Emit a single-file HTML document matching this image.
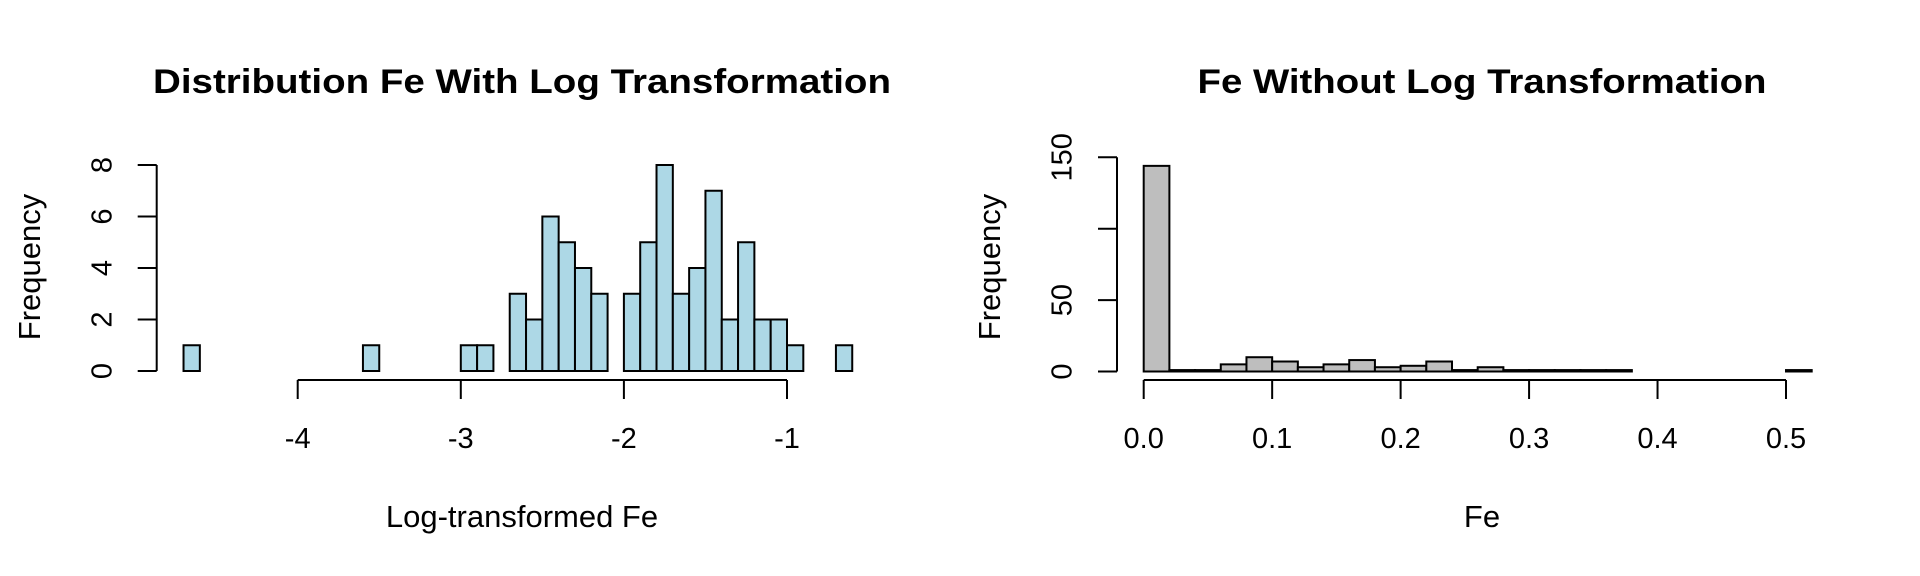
<!DOCTYPE html>
<html><head><meta charset="utf-8"><style>
html,body{margin:0;padding:0;background:#fff;}
svg{display:block;font-family:"Liberation Sans",Arial,sans-serif;}
</style></head><body>
<svg id="c" width="1920" height="576" viewBox="0 0 1920 576" xmlns="http://www.w3.org/2000/svg">
<g id="p1"></g>
<g id="p2"></g>
</svg>
<script>
// Left histogram data
const logBinStart = -4.7;
const logBinWidth = 0.1;
const logCounts = [1,0,0,0,0,0,0,0,0,0,0,1,0,0,0,0,0,1,1,0,3,2,6,5,4,3,0,3,5,8,3,4,7,2,5,2,2,1,0,0,1];
const logXTicks = [-4,-3,-2,-1];
const logXTickLabels = ["-4","-3","-2","-1"];
const logYTicks = [0,2,4,6,8];
const logYTickLabels = ["0","2","4","6","8"];
// Right histogram data
const feBinStart = 0;
const feBinWidth = 0.02;
const feCounts = [144,1,1,5,10,7,3,5,8,3,4,7,1,3,1,1,1,1,1,0,0,0,0,0,0,1];
const feXTicks = [0,0.1,0.2,0.3,0.4,0.5];
const feXTickLabels = ["0.0","0.1","0.2","0.3","0.4","0.5"];
const feYTicks = [0,50,100,150];
const feYTickLabels = ["0","50","","150"];

const NS="http://www.w3.org/2000/svg";
function mk(tag, attrs, parent){const e=document.createElementNS(NS,tag);for(const k in attrs)e.setAttribute(k,attrs[k]);parent.appendChild(e);return e;}

function drawHist(g, cfg){
  const xs=v=>cfg.x0+(v-cfg.xv0)*cfg.xk;
  const ys=v=>cfg.y0-v*cfg.yk;
  cfg.counts.forEach((c,i)=>{
    const a=cfg.binStart+i*cfg.binWidth, b=a+cfg.binWidth;
    const r=mk('rect',{x:xs(a),y:ys(c),width:xs(b)-xs(a),height:ys(0)-ys(c),fill:cfg.fill,stroke:'#000','stroke-width':2},g);
    
    
  });
  const yt=cfg.yTicks;
  const ya=mk('line',{x1:cfg.yAxisX,x2:cfg.yAxisX,y1:ys(yt[0]),y2:ys(yt[yt.length-1]),stroke:'#000','stroke-width':2},g);
  
  
  yt.forEach((t,i)=>{
    mk('line',{x1:cfg.yAxisX-19,x2:cfg.yAxisX,y1:ys(t),y2:ys(t),stroke:'#000','stroke-width':2},g);
    if(cfg.yLabels[i]){
      const tx=mk('text',{x:cfg.yLabX,y:ys(t),'font-size':29,'text-anchor':'middle',transform:`rotate(-90 ${cfg.yLabX} ${ys(t)})`,dy:'0.36em'},g);
      tx.textContent=cfg.yLabels[i];
      
      
    }
  });
  const xt=cfg.xTicks;
  const xa=mk('line',{x1:xs(xt[0]),x2:xs(xt[xt.length-1]),y1:cfg.xAxisY,y2:cfg.xAxisY,stroke:'#000','stroke-width':2},g);
  
  
  xt.forEach((t,i)=>{
    mk('line',{x1:xs(t),x2:xs(t),y1:cfg.xAxisY,y2:cfg.xAxisY+19,stroke:'#000','stroke-width':2},g);
    const tx=mk('text',{x:xs(t),y:448,'font-size':29,'text-anchor':'middle'},g);
    tx.textContent=cfg.xLabels[i];
    
    
  });
  const ti=mk('text',{x:cfg.titleX,y:93,'font-size':34,'font-weight':'bold','text-anchor':'middle',textLength:cfg.titleLen,lengthAdjust:'spacingAndGlyphs'},g);
  ti.textContent=cfg.title;
  
  
  const xl=mk('text',{x:cfg.titleX,y:527,'font-size':31,'text-anchor':'middle'},g);
  xl.textContent=cfg.xTitle;
  
  
  const yl=mk('text',{x:cfg.yTitleX,y:267,'font-size':31,'text-anchor':'middle',transform:`rotate(-90 ${cfg.yTitleX} 267)`,dy:'0.35em'},g);
  yl.textContent='Frequency';
  
  
}

drawHist(document.getElementById('p1'),{
  counts:logCounts,binStart:logBinStart,binWidth:logBinWidth,fill:'#add8e6',
  x0:297.7,xv0:-4,xk:163.1,y0:371,yk:(371-165)/8,
  yTicks:logYTicks,yLabels:logYTickLabels,xTicks:logXTicks,xLabels:logXTickLabels,
  yAxisX:156.7,yLabX:101,xAxisY:380,titleX:522,titleLen:738,
  title:'Distribution Fe With Log Transformation',xTitle:'Log-transformed Fe',yTitleX:29
});
drawHist(document.getElementById('p2'),{
  counts:feCounts,binStart:feBinStart,binWidth:feBinWidth,fill:'#bebebe',
  x0:1143.7,xv0:0,xk:1284.6,y0:371.5,yk:(371.5-157.3)/150,
  yTicks:feYTicks,yLabels:feYTickLabels,xTicks:feXTicks,xLabels:feXTickLabels,
  yAxisX:1117,yLabX:1061,xAxisY:380,titleX:1482,titleLen:569,
  title:'Fe Without Log Transformation',xTitle:'Fe',yTitleX:989
});
</script>
</body></html>
